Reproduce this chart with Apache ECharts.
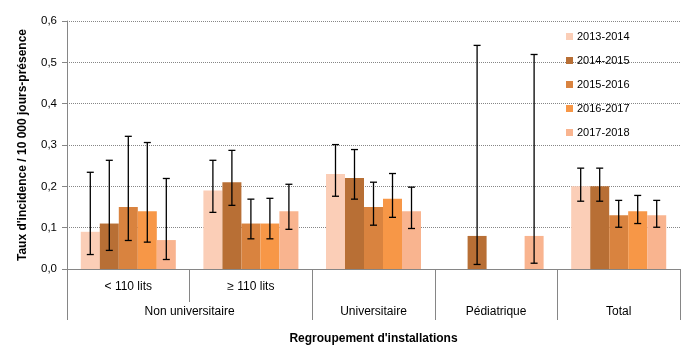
<!DOCTYPE html>
<html><head><meta charset="utf-8">
<script src="https://cdn.jsdelivr.net/npm/echarts@6/dist/echarts.min.js"></script>
<style>html,body{margin:0;padding:0;background:#fff}#c{width:693px;height:361px}</style>
</head><body><div id="c"></div>
<script>
const categories = ['< 110 lits', '≥ 110 lits', 'Universitaire', 'Pédiatrique', 'Total'];
const groupLabels = ['Non universitaire', 'Universitaire', 'Pédiatrique', 'Total'];
const groupCenters = [1, 2.5, 3.5, 4.5];
const groupBounds = [0, 2, 3, 4, 5];
const years = ['2013-2014', '2014-2015', '2015-2016', '2016-2017', '2017-2018'];
const yTicks = [0, 0.1, 0.2, 0.3, 0.4, 0.5, 0.6];

const rate2013 = [0.09, 0.19, 0.23, null, 0.20];
const rate2014 = [0.11, 0.21, 0.22, 0.08, 0.20];
const rate2015 = [0.15, 0.11, 0.15, null, 0.13];
const rate2016 = [0.14, 0.11, 0.17, null, 0.14];
const rate2017 = [0.07, 0.14, 0.14, 0.08, 0.13];

const low2013 = [0.035, 0.137, 0.176, null, 0.164];
const high2013 = [0.234, 0.263, 0.301, null, 0.244];
const low2014 = [0.045, 0.154, 0.169, 0.011, 0.164];
const high2014 = [0.263, 0.287, 0.289, 0.541, 0.244];
const low2015 = [0.069, 0.073, 0.106, null, 0.101];
const high2015 = [0.321, 0.169, 0.210, null, 0.166];
const low2016 = [0.065, 0.073, 0.125, null, 0.110];
const high2016 = [0.306, 0.171, 0.231, null, 0.178];
const low2017 = [0.023, 0.096, 0.098, 0.014, 0.101];
const high2017 = [0.219, 0.205, 0.198, 0.519, 0.166];

const colors = ['#FBCEB7', '#B86F35', '#D9833F', '#F79747', '#F9B48F'];
const rates = [rate2013, rate2014, rate2015, rate2016, rate2017];
const lows = [low2013, low2014, low2015, low2016, low2017];
const highs = [high2013, high2014, high2015, high2016, high2017];

const GAP = 0.225;
const FONT = 'Liberation Sans';

const series = [];
years.forEach((y, k) => {
  series.push({
    name: y, type: 'bar', xAxisIndex: 0,
    data: rates[k].map(v => v === null ? '-' : v),
    itemStyle: { color: colors[k] },
    barGap: '0%', barCategoryGap: (GAP * 100) + '%'
  });
});
years.forEach((y, k) => {
  const data = [];
  lows[k].forEach((lo, i) => { if (lo !== null) data.push([i, lo, highs[k][i]]); });
  series.push({
    name: 'err' + k, type: 'custom', xAxisIndex: 0, z: 5,
    data: data,
    encode: { x: 0, y: [1, 2] },
    renderItem: function (params, api) {
      const cat = api.value(0);
      const band = api.size([1, 0])[0];
      const bw = band * (1 - GAP) / years.length;
      const off = (k - (years.length - 1) / 2) * bw;
      const pLo = api.coord([cat, api.value(1)]);
      const pHi = api.coord([cat, api.value(2)]);
      const x = pLo[0] + off;
      const cap = 3.5;
      const st = { stroke: '#000', lineWidth: 1.3 };
      return { type: 'group', children: [
        { type: 'line', shape: { x1: x, y1: pLo[1], x2: x, y2: pHi[1] }, style: st },
        { type: 'line', shape: { x1: x - cap, y1: pLo[1], x2: x + cap, y2: pLo[1] }, style: st },
        { type: 'line', shape: { x1: x - cap, y1: pHi[1], x2: x + cap, y2: pHi[1] }, style: st }
      ]};
    }
  });
});

const chart = echarts.init(document.getElementById('c'), null, { renderer: 'canvas' });
chart.setOption({
  animation: false,
  textStyle: { fontFamily: FONT },
  grid: { left: 67, right: 13, top: 21, bottom: 92, containLabel: false },
  legend: {
    data: years, orient: 'vertical', left: 561, top: 26,
    itemWidth: 7, itemHeight: 7, itemGap: 13, icon: 'rect',
    textStyle: { fontFamily: FONT, fontSize: 11, color: '#000', padding: [0, 0, 0, -1] }
  },
  xAxis: [{
    type: 'category', data: categories, position: 'bottom',
    axisLine: { show: true, lineStyle: { color: '#868686', width: 1 } },
    axisTick: { show: true, length: 33, lineStyle: { color: '#868686' } },
    axisLabel: { margin: 12, fontSize: 12, color: '#000', fontFamily: FONT,
      formatter: (v, i) => i < 2 ? v : '' },
    splitLine: { show: false }
  }, {
    type: 'value', min: 0, max: 5, position: 'bottom', offset: 33,
    name: "Regroupement d'installations", nameLocation: 'middle', nameGap: 31,
    nameTextStyle: { fontFamily: FONT, fontSize: 12, fontWeight: 'bold', color: '#000' },
    axisLine: { show: false },
    axisTick: { show: true, length: 18, customValues: groupBounds, lineStyle: { color: '#868686' } },
    axisLabel: { show: true, margin: 4, fontSize: 12, color: '#000', fontFamily: FONT,
      customValues: groupCenters,
      formatter: v => { const i = groupCenters.indexOf(v); return i >= 0 ? groupLabels[i] : ''; } },
    splitLine: { show: false }
  }],
  yAxis: {
    type: 'value', min: yTicks[0], max: yTicks[yTicks.length - 1], interval: 0.1,
    name: "Taux d'incidence / 10 000 jours-présence", nameLocation: 'middle', nameGap: 38,
    nameTextStyle: { fontFamily: FONT, fontSize: 12, fontWeight: 'bold', color: '#000' },
    axisLine: { show: true, lineStyle: { color: '#868686' } },
    axisTick: { show: true, length: 5, lineStyle: { color: '#868686' } },
    axisLabel: { margin: 10, fontSize: 11.5, color: '#000', fontFamily: FONT,
      formatter: v => v.toFixed(1).replace('.', ',') },
    splitLine: { show: true, lineStyle: { color: '#868686', type: 'dotted', width: 1 } }
  },
  series: series
});
</script></body></html>
